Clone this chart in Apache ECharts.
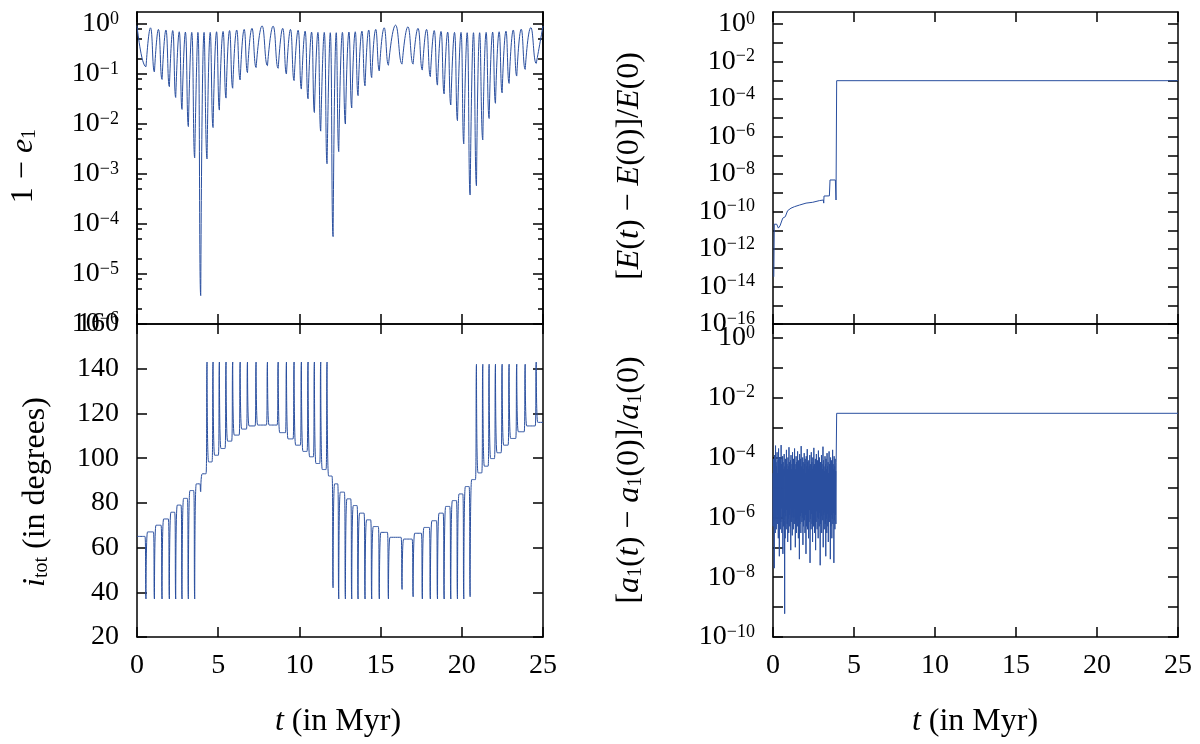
<!DOCTYPE html>
<html>
<head>
<meta charset="utf-8">
<script src="https://cdn.jsdelivr.net/npm/echarts@6/dist/echarts.min.js"></script>
<style>
  html, body { margin: 0; padding: 0; background: #fff; }
  #chart { width: 1200px; height: 744px; }
</style>
</head>
<body>
<div id="chart"></div>
<script>
// ---- 1 - e1 : peaks (incl. start / end) and dips
const eccPeakT = [0, 0.83, 1.32, 1.78, 2.2, 2.6, 2.98, 3.37, 3.75, 4.13, 4.51, 4.9, 5.3, 5.7, 6.14, 6.6, 7.08, 7.7, 8.38, 8.97, 9.45, 9.92, 10.35, 10.75, 11.14, 11.53, 11.9, 12.27, 12.65, 13.05, 13.44, 13.85, 14.27, 14.7, 15.22, 15.92, 16.68, 17.3, 17.83, 18.3, 18.72, 19.13, 19.55, 19.95, 20.33, 20.72, 21.1, 21.5, 21.9, 22.3, 22.72, 23.17, 23.66, 24.25, 25];
const eccPeakV = [0.93, 0.84, 0.78, 0.76, 0.74, 0.70, 0.69, 0.68, 0.68, 0.68, 0.68, 0.70, 0.71, 0.74, 0.76, 0.78, 0.82, 0.92, 0.91, 0.82, 0.78, 0.75, 0.72, 0.69, 0.68, 0.68, 0.67, 0.67, 0.68, 0.69, 0.70, 0.72, 0.76, 0.78, 0.84, 0.95, 0.88, 0.82, 0.78, 0.74, 0.71, 0.69, 0.68, 0.68, 0.67, 0.67, 0.67, 0.68, 0.69, 0.70, 0.72, 0.76, 0.79, 0.85, 0.91];
const dipT = [0.57, 1.09, 1.56, 2.01, 2.4, 2.79, 3.18, 3.57, 3.94, 4.33, 4.7, 5.09, 5.5, 5.91, 6.37, 6.82, 7.35, 8.05, 8.71, 9.22, 9.69, 10.14, 10.55, 10.94, 11.33, 11.72, 12.09, 12.44, 12.85, 13.24, 13.63, 14.06, 14.47, 14.94, 15.5, 16.34, 17.02, 17.59, 18.08, 18.52, 18.93, 19.34, 19.75, 20.14, 20.53, 20.92, 21.31, 21.7, 22.09, 22.5, 22.93, 23.4, 23.92, 24.6];
const eccDipV = [0.14, 0.11, 0.078, 0.056, 0.034, 0.0196, 0.0089, 0.0021, 3.7e-6, 0.0020, 0.0085, 0.019, 0.033, 0.052, 0.076, 0.107, 0.135, 0.147, 0.13, 0.10, 0.074, 0.050, 0.032, 0.017, 0.0072, 0.0016, 5.6e-5, 0.0028, 0.010, 0.021, 0.037, 0.058, 0.085, 0.115, 0.15, 0.158, 0.158, 0.12, 0.089, 0.06, 0.04, 0.024, 0.0117, 0.004, 3.8e-4, 5.8e-4, 0.0048, 0.0129, 0.026, 0.042, 0.065, 0.091, 0.124, 0.163];

// ---- i_tot : plateau level at the peak times, dip / spike at the dip times
const incPlateauV = [65, 67, 70, 72.8, 75.8, 79, 82, 85.5, 88.5, 93, 98.3, 101.3, 104.3, 107.6, 110.3, 113, 114.4, 114.8, 114.8, 111.4, 108.6, 105.8, 103, 100.6, 97.6, 94.9, 92, 88.5, 84.8, 81.8, 78.8, 75.4, 72.4, 69.4, 66.8, 64.6, 63.8, 66.4, 69, 72, 75.4, 78.4, 81, 84, 87.3, 90.4, 93.4, 96.4, 99.8, 102.4, 105.8, 108.8, 111.8, 114.4, 116];
const incDipV = [37, 37, 37, 37, 37, 37, 37, 37, 85, 143, 143, 143, 143, 143, 143, 143, 143, 143, 143, 143, 143, 143, 143, 143, 143, 143, 42, 37, 37, 37, 37, 37, 37, 37, 37, 41.3, 38, 37, 37, 37, 37, 37, 37, 37, 38, 142, 142, 142, 142, 142, 142, 142, 142, 143];

// ---- energy error
const energyT = [0.05, 0.08, 0.23, 0.33, 0.43, 0.6, 0.76, 0.9, 1.11, 1.32, 1.63, 2.04, 2.45, 2.86, 3.11, 3.13, 3.15, 3.48, 3.52, 3.85, 3.89, 3.93, 25];
const energyV = [3.3e-14, 2.1e-11, 2.1e-11, 1.3e-11, 1.7e-11, 4.4e-11, 5.3e-11, 1.1e-10, 1.5e-10, 1.8e-10, 2.2e-10, 2.8e-10, 3.1e-10, 3.8e-10, 4.1e-10, 2.8e-10, 6.7e-10, 6.8e-10, 4.8e-9, 4.8e-9, 4.1e-10, 9.5e-4, 9.5e-4];

// ---- semi-major axis error: noisy stretch sampled every aNoiseDt, then the step
const aNoiseDt = 0.01566;
const aNoiseV = [
  3e-5, 5e-7, 9e-5, 1.5e-6, 6e-5, 2e-8, 1.2e-4, 8e-7, 4e-5, 3e-7, 2.5e-4, 1e-6, 7e-5, 4e-7, 5e-5, 2e-6, 1.5e-4, 6e-7, 3e-5, 1.2e-6,
  8e-5, 2e-7, 2e-4, 9e-7, 5e-5, 5e-8, 1e-4, 1.5e-6, 4e-5, 4e-7, 9e-5, 7e-7, 2.6e-4, 2e-6, 6e-5, 3e-7, 3e-5, 1e-6, 1.1e-4, 6e-8,
  7e-5, 5e-7, 4e-5, 1.4e-6, 1.3e-4, 8e-7, 6e-10, 5e-5, 2e-7, 9e-5, 1.1e-6, 3.5e-5, 4e-7, 1.8e-4, 1.8e-6, 6e-5, 6e-7, 4e-5, 1.5e-7, 1e-4,
  9e-7, 5e-5, 3e-7, 2.2e-4, 1.2e-6, 7e-5, 5e-7, 3e-5, 2e-6, 8e-5, 8e-8, 1.2e-4, 7e-7, 4e-5, 1e-6, 6e-5, 2.5e-7, 1.5e-4, 1.5e-6, 5e-5,
  4e-7, 9e-5, 1e-6, 3e-5, 6e-7, 2e-4, 2e-6, 6e-5, 1e-7, 4e-5, 8e-7, 1.1e-4, 3e-7, 7e-5, 1.3e-6, 5e-5, 5e-7, 1.6e-4, 9e-7, 3.5e-5,
  2e-7, 8e-5, 1.6e-6, 6e-5, 4e-8, 1.3e-4, 6e-7, 4e-5, 1.1e-6, 9e-5, 3e-7, 2.4e-4, 1.4e-6, 5e-5, 7e-7, 3e-5, 1e-6, 1e-4, 1.2e-7, 7e-5,
  5e-7, 4e-5, 2e-6, 1.4e-4, 8e-7, 6e-5, 3e-7, 9e-5, 1.2e-6, 3e-5, 6e-8, 1.1e-4, 5e-7, 5e-5, 1.5e-6, 1.9e-4, 4e-7, 7e-5, 1e-6, 4e-5,
  2e-7, 8e-5, 7e-7, 5e-5, 1.8e-6, 1.2e-4, 3e-8, 6e-5, 9e-7, 3.5e-5, 4e-7, 1.5e-4, 1.3e-6, 7e-5, 6e-7, 4e-5, 1.5e-7, 1e-4, 2e-6, 5e-5,
  5e-7, 2.1e-4, 1e-6, 6e-5, 3e-7, 3e-5, 1.2e-6, 9e-5, 8e-8, 5e-5, 7e-7, 1.3e-4, 1.6e-6, 4e-5, 4e-7, 8e-5, 1e-6, 6e-5, 2e-7, 1.7e-4,
  9e-7, 4e-5, 5e-7, 1e-4, 1.4e-6, 3e-5, 2.5e-8, 7e-5, 6e-7, 5e-5, 1.1e-6, 1.2e-4, 3e-7, 6e-5, 1.8e-6, 4e-5, 8e-7, 2.3e-4, 1e-7, 8e-5,
  1.2e-6, 5e-5, 4e-7, 3.5e-5, 1.5e-6, 1.1e-4, 6e-7, 6e-5, 5e-8, 9e-5, 9e-7, 4e-5, 3e-7, 1.4e-4, 1.3e-6, 5e-5, 5e-7, 7e-5, 1.5e-7, 3e-5,
  1e-6, 1.6e-4, 7e-7, 6e-5, 2e-6, 4e-5, 4e-8, 1e-4, 5e-7, 5e-5, 1.2e-6, 8e-5, 2e-7, 3e-5, 9e-7, 1.8e-4, 6e-7, 6e-5, 1.4e-6, 4e-5,
  3e-8, 1.1e-4, 8e-7, 5e-5, 4e-7, 9e-5, 1.2e-6, 3.5e-5, 6e-7, 7e-5];
const aStepT = [3.93, 25];
const aStepV = [3e-3, 3e-3];

// ---- tick values
const eccMajor = [1, 1e-1, 1e-2, 1e-3, 1e-4, 1e-5, 1e-6];
const eccMinor = [0.8, 0.5, 0.2, 0.08, 0.05, 0.02, 8e-3, 5e-3, 2e-3, 8e-4, 5e-4, 2e-4, 8e-5, 5e-5, 2e-5, 8e-6, 5e-6, 2e-6];
const energyTicks = [1, 1e-1, 1e-2, 1e-3, 1e-4, 1e-5, 1e-6, 1e-7, 1e-8, 1e-9, 1e-10, 1e-11, 1e-12, 1e-13, 1e-14, 1e-15, 1e-16];
const energyLabels = [1, 1e-2, 1e-4, 1e-6, 1e-8, 1e-10, 1e-12, 1e-14, 1e-16];
const aTicks = [1, 1e-1, 1e-2, 1e-3, 1e-4, 1e-5, 1e-6, 1e-7, 1e-8, 1e-9, 1e-10];
const aLabels = [1, 1e-2, 1e-4, 1e-6, 1e-8, 1e-10];

const SERIF = 'Liberation Serif';
const BLUE = '#2a4f9f';
// shape of the narrow dips (Myr): width of the pointed bottom, and where the
// inclination curve leaves its plateau level
const TIP_HALF = 0.015;
const INC_SHOULDER = 0.08;

function dipCurve(plateau, dips, shoulder) {
  const out = [];
  eccPeakT.forEach(function (t, i) {
    out.push([t, plateau[i]]);
    if (i < dipT.length) {
      if (shoulder) out.push([dipT[i] - shoulder, plateau[i]]);
      out.push([dipT[i] - TIP_HALF, dips[i]]);
      out.push([dipT[i] + TIP_HALF, dips[i]]);
      if (shoulder) out.push([dipT[i] + shoulder, plateau[i + 1]]);
    }
  });
  return out;
}
const eccData = dipCurve(eccPeakV, eccDipV, 0);
const incData = dipCurve(incPlateauV, incDipV, INC_SHOULDER);
const energyData = energyT.map(function (t, i) { return [t, energyV[i]]; });
const aData = aNoiseV.map(function (v, i) { return [i * aNoiseDt, v]; })
  .concat(aStepT.map(function (t, i) { return [t, aStepV[i]]; }));

function powLabel(v) {
  const e = Math.round(Math.log10(v));
  return '10{s|' + (e < 0 ? '\u2212' + (-e) : String(e)) + '}';
}
const labelRich = {
  s: { fontFamily: SERIF, fontSize: 18, verticalAlign: 'top', lineHeight: 16, color: '#000' }
};

const lineCol = { color: '#000', width: 1.5 };

const xAxes = [], yAxes = [];
function addX(grid, pos, labels) {
  xAxes.push({
    type: 'value', gridIndex: grid, position: pos, min: 0, max: 25, interval: 5,
    axisLine: { show: true, onZero: false, lineStyle: lineCol },
    axisTick: { show: true, inside: true, length: 10, lineStyle: lineCol },
    axisLabel: { show: labels, color: '#000', fontFamily: SERIF, fontSize: 28, margin: 15 },
    splitLine: { show: false }
  });
}
for (let g = 0; g < 4; g++) {
  addX(g, 'bottom', g === 1 || g === 3);
  addX(g, 'top', false);
}

function addLogY(grid, pos, min, max, ticks, labels, tickLen) {
  yAxes.push({
    type: 'log', logBase: 10, gridIndex: grid, position: pos, min: min, max: max,
    axisLine: { show: true, onZero: false, lineStyle: lineCol },
    axisTick: { show: true, inside: true, length: tickLen, customValues: ticks, lineStyle: lineCol },
    axisLabel: labels ? {
      show: true, customValues: labels, formatter: powLabel, color: '#000',
      fontFamily: SERIF, fontSize: 28, margin: 18, rich: labelRich
    } : { show: false },
    splitLine: { show: false }
  });
  return yAxes.length - 1;
}

// grid 0: 1 - e1
const yEcc = addLogY(0, 'left', 1e-6, 1.74, eccMajor, eccMajor, 10);
addLogY(0, 'left', 1e-6, 1.74, eccMinor, null, 5);
addLogY(0, 'right', 1e-6, 1.74, eccMajor, null, 10);
addLogY(0, 'right', 1e-6, 1.74, eccMinor, null, 5);

// grid 1: inclination
yAxes.push({
  type: 'value', gridIndex: 1, position: 'left', min: 20, max: 160, interval: 20,
  axisLine: { show: true, onZero: false, lineStyle: lineCol },
  axisTick: { show: true, inside: true, length: 10, lineStyle: lineCol },
  axisLabel: { color: '#000', fontFamily: SERIF, fontSize: 28, margin: 18 },
  splitLine: { show: false }
});
const yInc = yAxes.length - 1;
yAxes.push({
  type: 'value', gridIndex: 1, position: 'right', min: 20, max: 160, interval: 20,
  axisLine: { show: true, onZero: false, lineStyle: lineCol },
  axisTick: { show: true, inside: true, length: 10, lineStyle: lineCol },
  axisLabel: { show: false }, splitLine: { show: false }
});

// grid 2: energy
const yEn = addLogY(2, 'left', 1e-16, 4.37, energyTicks, energyLabels, 10);
addLogY(2, 'right', 1e-16, 4.37, energyTicks, null, 10);

// grid 3: semi-major axis
const yA = addLogY(3, 'left', 1e-10, 2.9, aTicks, aLabels, 10);
addLogY(3, 'right', 1e-10, 2.9, aTicks, null, 10);

function lineSeries(xi, yi, data, smooth) {
  return {
    type: 'line', xAxisIndex: xi, yAxisIndex: yi, data: data, smooth: smooth,
    showSymbol: false, symbol: 'none', animation: false, silent: true,
    lineStyle: { color: BLUE, width: 1 }
  };
}

const titleRich = {
  n: { fontFamily: SERIF, fontSize: 32, color: '#000' },
  i: { fontFamily: SERIF, fontSize: 32, fontStyle: 'italic', color: '#000' },
  sub: { fontFamily: SERIF, fontSize: 20, color: '#000', verticalAlign: 'bottom' }
};
function title(x, y, text, rot) {
  return {
    type: 'text', x: x, y: y, rotation: rot ? Math.PI / 2 : 0,
    style: { text: text, rich: titleRich, align: 'center', verticalAlign: 'middle', fill: '#000' }
  };
}

const chart = echarts.init(document.getElementById('chart'), null, { renderer: 'canvas' });
chart.setOption({
  backgroundColor: '#fff',
  animation: false,
  grid: [
    { left: 137, width: 406, top: 12, height: 312 },
    { left: 137, width: 406, top: 324, height: 313 },
    { left: 773, width: 405, top: 12, height: 312 },
    { left: 773, width: 405, top: 324, height: 313 }
  ],
  xAxis: xAxes,
  yAxis: yAxes,
  series: [
    lineSeries(0, yEcc, eccData, 0.5),
    lineSeries(2, yInc, incData, 0.5),
    lineSeries(4, yEn, energyData, false),
    lineSeries(6, yA, aData, false)
  ],
  graphic: [
    title(24, 166, '{n|1 \u2212 }{i|e}{sub|1}', true),
    title(36, 492, '{i|i}{sub|tot}{n| (in degrees)}', true),
    title(630, 166, '{n|[}{i|E}{n|(}{i|t}{n|) \u2212 }{i|E}{n|(0)]/}{i|E}{n|(0)}', true),
    title(630, 480, '{n|[}{i|a}{sub|1}{n|(}{i|t}{n|) \u2212 }{i|a}{sub|1}{n|(0)]/}{i|a}{sub|1}{n|(0)}', true),
    title(338, 722, '{i|t}{n| (in Myr)}', false),
    title(975, 722, '{i|t}{n| (in Myr)}', false)
  ]
});
</script>
</body>
</html>
